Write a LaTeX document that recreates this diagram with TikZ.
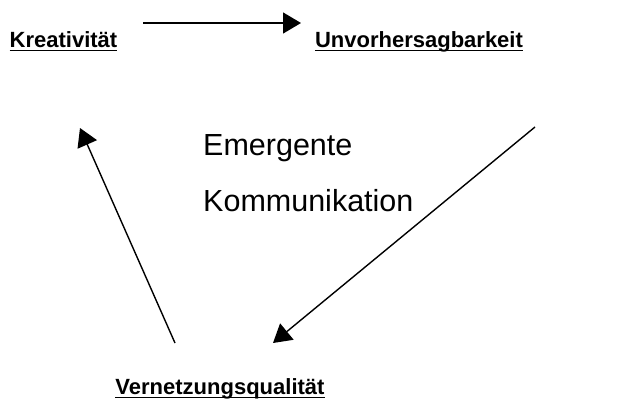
\documentclass[tikz,border=0pt]{standalone}
\usepackage{fontspec}
\setmainfont{Liberation Sans}
\usepackage{tikz}
\usetikzlibrary{arrows.meta,positioning}
\tikzset{
  flow/.style={-{Triangle[length=18pt, width=21pt]}, line width=1.4pt, black},
  pole/.style={inner sep=0pt, anchor=base, font=\fontsize{22}{26}\selectfont\bfseries},
  core/.style={inner sep=0pt, anchor=base west, font=\fontsize{30.5}{36}\selectfont},
  uline/.style={line width=1.5pt, black},
}

\begin{document}
\begin{tikzpicture}[x=1pt, y=-1pt]
\useasboundingbox (0,0) rectangle (641,401);
\node[pole] (krea) at (63.5,48) {Kreativität};
\node[pole] (unvo) at (419,48) {Unvorhersagbarkeit};
\node[pole] (vern) at (220,395) {Vernetzungsqualität};
\node[core] (emer) at (203,156) {Emergente};
\node[core] (komm) at (203,212) {Kommunikation};
% underlines
\foreach \n in {krea,unvo,vern}
  \draw[uline] ([yshift=-2.5pt]\n.base west) -- ([yshift=-2.5pt]\n.base east);
\coordinate (t0) at (143,23);
\coordinate (t1) at (301,23);
\coordinate (r0) at (535,127);
\coordinate (r1) at (273,343);
\coordinate (l0) at (175,343);
\coordinate (l1) at (80,128);
\draw[flow] (t0) -- (t1);
\draw[flow] (r0) -- (r1);
\draw[flow] (l0) -- (l1);
\end{tikzpicture}
\end{document}
